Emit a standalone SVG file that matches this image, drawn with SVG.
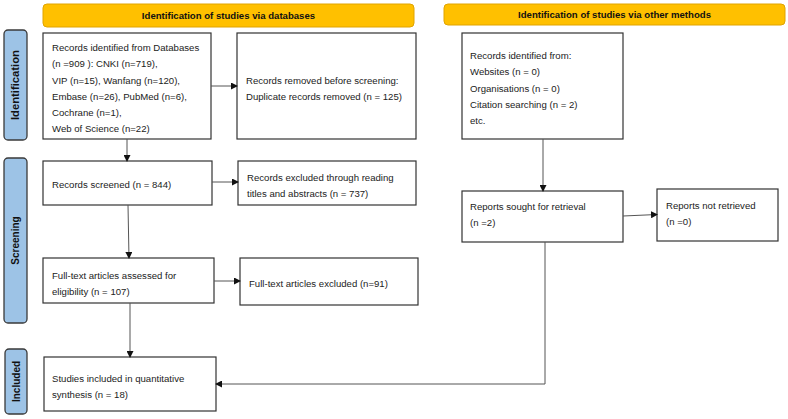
<svg xmlns="http://www.w3.org/2000/svg" width="788" height="419" viewBox="0 0 788 419">
<style>
.t{font-family:"Liberation Sans",Arial,sans-serif;font-size:9.6px;fill:#222}
.h{font-family:"Liberation Sans",Arial,sans-serif;font-size:9.6px;font-weight:bold;fill:#111;text-anchor:middle}
.s{font-family:"Liberation Sans",Arial,sans-serif;font-size:10px;font-weight:bold;fill:#111;text-anchor:middle}
.box{fill:#fff;stroke:#333;stroke-width:1.2}
.ban{fill:#FFC000;stroke:#E0A400;stroke-width:1}
.side{fill:#9DC3E6;stroke:#3a3a3a;stroke-width:1.3}
.c{fill:none;stroke:#555;stroke-width:1}
</style>
<defs>
<marker id="ah" markerWidth="7" markerHeight="7" refX="6" refY="3.5" orient="auto" markerUnits="userSpaceOnUse">
<path d="M0,0 L7,3.5 L0,7 z" fill="#111"/>
</marker>
</defs>
<g id="banner-db"><rect class="ban" x="43" y="4" width="371" height="23" rx="4"/><text class="h" x="228.5" y="19">Identification of studies via databases</text></g>
<g id="banner-other"><rect class="ban" x="444" y="4" width="341" height="21" rx="4"/><text class="h" x="614.5" y="18">Identification of studies via other methods</text></g>
<g id="side-identification"><rect class="side" x="4" y="30" width="23" height="110" rx="4"/><text class="s" transform="translate(19,85) rotate(-90)" textLength="70" lengthAdjust="spacingAndGlyphs">Identification</text></g>
<g id="side-screening"><rect class="side" x="4" y="158" width="23" height="165" rx="4"/><text class="s" transform="translate(19,240.5) rotate(-90)">Screening</text></g>
<g id="side-included"><rect class="side" x="5" y="349" width="22" height="65" rx="4"/><text class="s" transform="translate(19.5,381.5) rotate(-90)">Included</text></g>
<g id="records-identified"><rect class="box" x="43" y="33" width="168" height="106"/>
<text class="t" x="52" y="50.5">Records identified from Databases</text>
<text class="t" x="52" y="67">(n =909 ): CNKI (n=719),</text>
<text class="t" x="52" y="83.5">VIP (n=15), Wanfang (n=120),</text>
<text class="t" x="52" y="99.5">Embase (n=26), PubMed (n=6),</text>
<text class="t" x="52" y="115.5">Cochrane (n=1),</text>
<text class="t" x="52" y="131.5">Web of Science (n=22)</text></g>
<g id="records-removed"><rect class="box" x="237" y="33" width="179" height="106"/>
<text class="t" x="246" y="83.5">Records removed before screening:</text>
<text class="t" x="246" y="99.5">Duplicate records removed (n = 125)</text></g>
<g id="records-other"><rect class="box" x="462" y="33" width="161" height="106"/>
<text class="t" x="470" y="58.5">Records identified from:</text>
<text class="t" x="470" y="75">Websites (n = 0)</text>
<text class="t" x="470" y="91.5">Organisations (n = 0)</text>
<text class="t" x="470" y="107.5">Citation searching (n = 2)</text>
<text class="t" x="470" y="123.5">etc.</text></g>
<g id="records-screened"><rect class="box" x="43" y="161" width="169" height="44"/>
<text class="t" x="52" y="188">Records screened (n = 844)</text></g>
<g id="records-excluded"><rect class="box" x="238" y="161" width="178" height="44"/>
<text class="t" x="247" y="180.5">Records excluded through reading</text>
<text class="t" x="247" y="196.5">titles and abstracts (n = 737)</text></g>
<g id="fulltext-assessed"><rect class="box" x="43" y="258" width="171" height="45"/>
<text class="t" x="52" y="278.5">Full-text articles assessed for</text>
<text class="t" x="52" y="294.5">eligibility (n = 107)</text></g>
<g id="fulltext-excluded"><rect class="box" x="240" y="258" width="178" height="47"/>
<text class="t" x="249" y="286.5">Full-text articles excluded (n=91)</text></g>
<g id="reports-sought"><rect class="box" x="462" y="191" width="161" height="51"/>
<text class="t" x="470" y="209.5">Reports sought for retrieval</text>
<text class="t" x="470" y="226">(n =2)</text></g>
<g id="reports-not-retrieved"><rect class="box" x="657" y="189" width="121" height="52"/>
<text class="t" x="666" y="208.5">Reports not retrieved</text>
<text class="t" x="666" y="225">(n =0)</text></g>
<g id="studies-included"><rect class="box" x="44" y="357" width="172" height="54"/>
<text class="t" x="52" y="381.5">Studies included in quantitative</text>
<text class="t" x="52" y="397.5">synthesis (n = 18)</text></g>
<g id="connectors">
<path class="c" d="M127,139 V161" marker-end="url(#ah)"/>
<path class="c" d="M211,86 H237" marker-end="url(#ah)"/>
<path class="c" d="M212,182 H238" marker-end="url(#ah)"/>
<path class="c" d="M128,205 L129,258" marker-end="url(#ah)"/>
<path class="c" d="M214,281 H240" marker-end="url(#ah)"/>
<path class="c" d="M130,303 V357" marker-end="url(#ah)"/>
<path class="c" d="M543,139 V191" marker-end="url(#ah)"/>
<path class="c" d="M623,216 L657,214.5" marker-end="url(#ah)"/>
<path class="c" d="M545,242 V384 H216" marker-end="url(#ah)"/>
</g>
</svg>
